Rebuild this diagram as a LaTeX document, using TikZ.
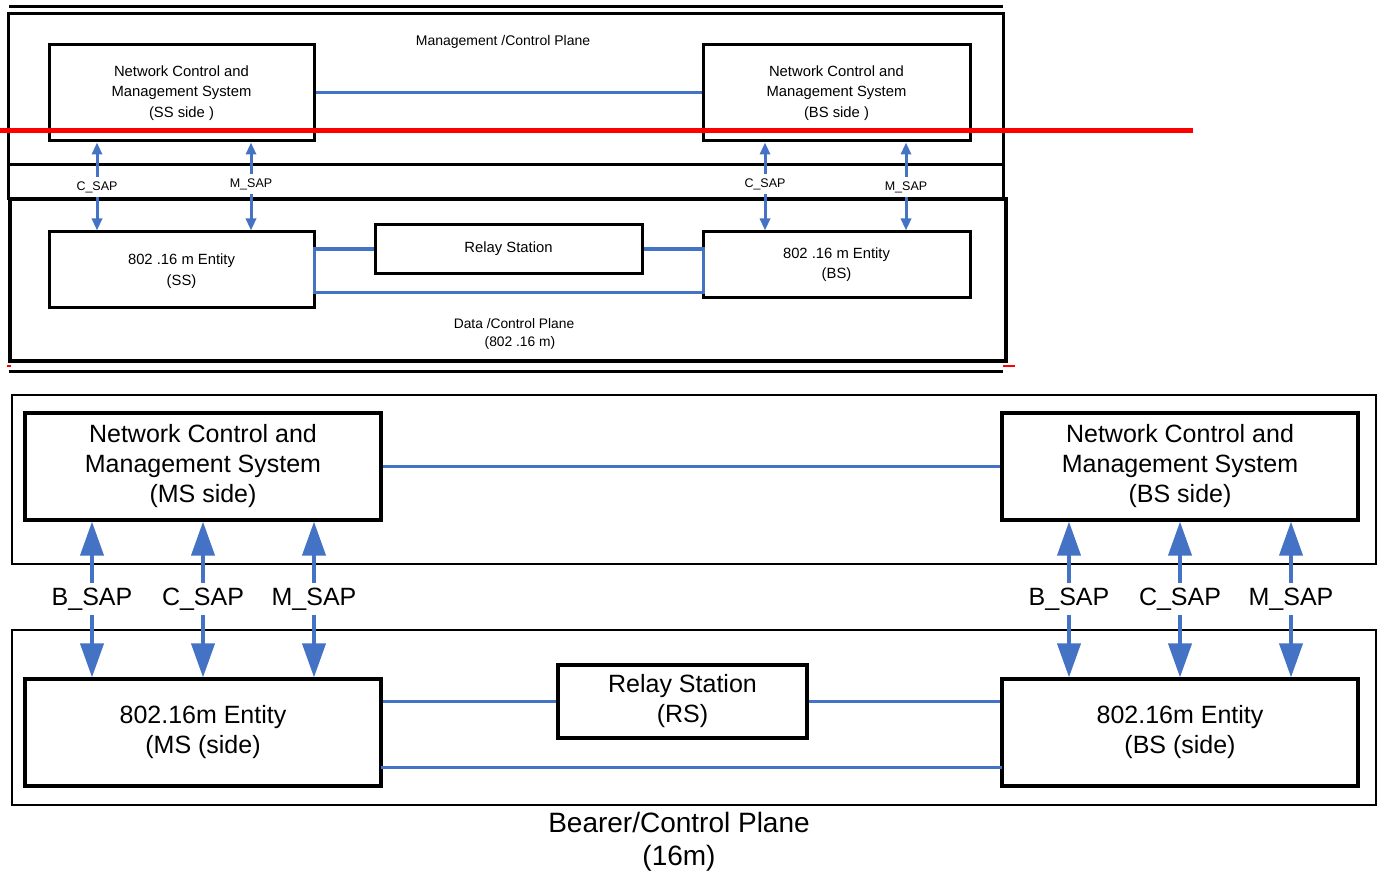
\documentclass[tikz,border=0pt]{standalone}
\usepackage{fontspec}
\setmainfont{Liberation Sans}
\usetikzlibrary{arrows.meta}
\definecolor{sapblue}{HTML}{4472C4}
\begin{document}
\begin{tikzpicture}[x=1pt,y=-1pt,
  sbox/.style={draw, line width=3pt, inner sep=0pt, align=center, font=\fontsize{14.8}{20.5}\selectfont},
  bbox/.style={draw, line width=3.2pt, inner sep=0pt, align=center, font=\fontsize{25}{30}\selectfont},
  link/.style={draw=sapblue, line width=3pt},
  slab/.style={inner sep=0pt, inner ysep=4pt, font=\fontsize{12.5}{14}\selectfont},
  blab/.style={inner sep=0pt, inner ysep=4.5pt, font=\fontsize{25}{30}\selectfont},
  sarr/.style={draw=sapblue, line width=3pt, -{Triangle[width=10pt,length=12pt]}},
  barr/.style={draw=sapblue, line width=4pt, -{Triangle[width=23pt,length=34pt]}},
  plane/.style={align=center, inner sep=0pt}]
\useasboundingbox (0,0) rectangle (1380,877);
% ---------------- upper (old) figure ----------------
\draw[line width=3pt] (9,7) -- (1003,7);
\draw[line width=3pt] (8,14) rectangle (1003,199);
\draw[line width=3pt] (8,165) -- (1003,165);
\draw[line width=3.5pt] (10,199) rectangle (1006,361);
\draw[line width=3pt] (9,371) -- (1003,371);
\draw[red, line width=1.5pt] (7,366) -- (11,366);
\draw[red, line width=1.5pt] (1003,366) -- (1015,366);

\node[plane, font=\fontsize{14}{16}\selectfont] (mcp) at (503,42) {Management /Control Plane};
\node[plane, font=\fontsize{13.8}{18}\selectfont] (dcp) at (514,334) {Data /Control Plane\\\hspace*{12pt}(802 .16 m)};

\node[sbox, minimum width=265pt, minimum height=96pt] (ncss) at (181.5,93) {Network Control and\\Management System\\(SS side )};
\node[sbox, minimum width=267pt, minimum height=96pt] (ncbs) at (836.5,93) {Network Control and\\Management System\\(BS side )};
\node[sbox, minimum width=265pt, minimum height=75pt, text depth=0pt] (entss) at (181.5,269.5) {802 .16 m Entity\\(SS)};
\node[sbox, minimum width=267pt, minimum height=48pt] (relay1) at (508.5,249) {Relay Station};
\node[sbox, minimum width=267pt, minimum height=65pt] (entbs) at (836.5,264.5) {802 .16 m Entity\\(BS)};

\coordinate (dl) at (314,292);
\coordinate (dr) at (703,292);
\draw[link] (ncss.east) -- (ncbs.west);
\draw[link] (relay1.west) -| (dl) -- (dr) |- (relay1.east);

\node[slab] (c1) at (97,187) {C\_SAP};
\node[slab] (m1) at (251,184) {M\_SAP};
\node[slab] (c2) at (765,184) {C\_SAP};
\node[slab] (m2) at (906,187) {M\_SAP};
\foreach \n in {c1,m1} {
  \draw[sarr] (\n.north) -- (\n.north |- ncss.south);
  \draw[sarr] (\n.south) -- (\n.south |- entss.north);
}
\draw[sarr] (c2.north) -- (c2.north |- ncbs.south);
\draw[sarr] (c2.south) -- (c2.south |- entbs.north);
\draw[sarr] (m2.north) -- (m2.north |- ncbs.south);
\draw[sarr] (m2.south) -- (m2.south |- entbs.north);

\draw[red, line width=5pt] (0,131) -- (1193,131);

% ---------------- lower (new) figure ----------------
\draw[line width=1.8pt] (12,395) rectangle (1376,564);
\draw[line width=1.8pt] (12,630) rectangle (1376,805);

\node[bbox, minimum width=356pt, minimum height=107pt] (ncms) at (203,466.5) {Network Control and\\Management System\\(MS side)};
\node[bbox, minimum width=356pt, minimum height=107pt] (ncbs2) at (1180,466.5) {Network Control and\\Management System\\(BS side)};
\node[bbox, minimum width=356pt, minimum height=107pt] (entms) at (203,732.5) {802.16m Entity\\(MS (side)};
\node[bbox, minimum width=356pt, minimum height=107pt] (entbs2) at (1180,732.5) {802.16m Entity\\(BS (side)};
\node[bbox, minimum width=249pt, minimum height=73pt] (relay2) at (682.5,701.5) {Relay Station\\(RS)};

\coordinate (bl) at (381,767);
\coordinate (br) at (1002,767);
\draw[link] (ncms.east) -- (ncbs2.west);
\draw[link] (relay2.west) -- (relay2.west -| entms.east);
\draw[link] (relay2.east) -- (relay2.east -| entbs2.west);
\draw[link] (bl) -- (br);

\node[blab] (bs1) at (92,599) {B\_SAP};
\node[blab] (cs1) at (203,599) {C\_SAP};
\node[blab] (ms1) at (314,599) {M\_SAP};
\node[blab] (bs2) at (1069,599) {B\_SAP};
\node[blab] (cs2) at (1180,599) {C\_SAP};
\node[blab] (ms2) at (1291,599) {M\_SAP};
\foreach \n in {bs1,cs1,ms1} {
  \draw[barr] (\n.north) -- (\n.north |- ncms.south);
  \draw[barr] (\n.south) -- (\n.south |- entms.north);
}
\foreach \n in {bs2,cs2,ms2} {
  \draw[barr] (\n.north) -- (\n.north |- ncbs2.south);
  \draw[barr] (\n.south) -- (\n.south |- entbs2.north);
}

\node[plane, font=\fontsize{28}{33}\selectfont] (cap) at (679,842) {Bearer/Control Plane\\(16m)};
\end{tikzpicture}
\end{document}
